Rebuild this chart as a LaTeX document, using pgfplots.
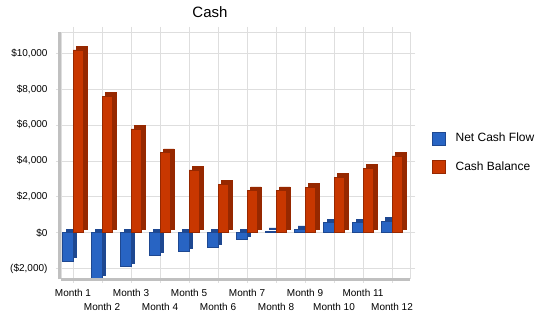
\documentclass[border=0pt]{standalone}
\usepackage{pgfplots}
\pgfplotsset{compat=1.18}
\usepackage{fontspec}
\setmainfont{Liberation Sans}

\definecolor{flowfront}{RGB}{40,100,195}
\definecolor{flowside}{RGB}{30,72,145}
\definecolor{balfront}{RGB}{200,55,0}
\definecolor{balside}{RGB}{150,40,0}
\definecolor{gridgray}{RGB}{222,222,222}
\definecolor{wallgray}{RGB}{192,192,192}

% monthly net cash flow and closing cash balance
\pgfplotstableread{
month flow balance
1  -1580 10170
2  -2550 7600
3  -1880 5780
4  -1260 4470
5  -1040 3490
6  -820  2700
7  -370  2350
8  80    2350
9  190   2540
10 560   3090
11 560   3600
12 650   4280
}\cashdata

\begin{document}
\begin{tikzpicture}
\useasboundingbox (0pt,0pt) rectangle (550pt,318pt);
\node[font=\fontsize{15}{18}\selectfont] at (210pt,306pt) {Cash};
\begin{axis}[
  at={(61pt,40pt)}, anchor=south west,
  width=349pt, height=246pt, scale only axis,
  xmin=0.586, xmax=12.62, ymin=-2521, ymax=11169,
  scaled y ticks=false,
  axis line style={draw=gridgray},
  grid=major, major grid style={draw=gridgray, line width=0.6pt},
  tick align=outside, major tick length=5pt,
  tick style={draw=gridgray, line width=0.6pt},
  xtick={1,3,5,7,9,11},
  xticklabels={Month 1,Month 3,Month 5,Month 7,Month 9,Month 11},
  extra x ticks={2,4,6,8,10,12},
  extra x tick labels={Month 2,Month 4,Month 6,Month 8,Month 10,Month 12},
  extra x tick style={xticklabel style={yshift=-14pt}},
  xticklabel style={font=\fontsize{10}{12}\selectfont, anchor=north, yshift=-3pt},
  ytick={-2000,0,2000,4000,6000,8000,10000},
  yticklabels={(\$2,000),\$0,{\$2,000},{\$4,000},{\$6,000},{\$8,000},{\$10,000}},
  yticklabel style={font=\fontsize{10}{12}\selectfont, xshift=-5pt},
  legend style={at={(axis description cs:1,1)}, anchor=north west,
    xshift=22pt, yshift=-99pt, draw=none, fill=none, inner sep=0pt,
    font=\fontsize{12}{14}\selectfont, row sep=14pt,
    nodes={inner sep=2pt}},
  legend cell align=left,
  clip=true,
  % gray walls on the left and the floor of the plot box
  after end axis/.code={
    \draw[wallgray, line width=3pt, xshift=-1.5pt] (rel axis cs:0,-0.006) -- (rel axis cs:0,1);
    \draw[wallgray, line width=3pt, yshift=-1.5pt] (rel axis cs:0,0) -- (rel axis cs:1,0);
  },
]
% depth faces: darker copy offset up and to the right
\addplot[ybar, bar width=10.5pt, bar shift=-5.25pt, fill=flowside, draw=flowside,
  xshift=3.5pt, yshift=3.5pt, forget plot] table[x=month, y=flow] {\cashdata};
\addplot[ybar, bar width=10.5pt, bar shift=-5.25pt, fill=flowfront, draw=flowside,
  line width=0.4pt,
  legend image code/.code={\draw[fill=flowfront, draw=flowside] (0pt,-6.5pt) rectangle (13pt,6.5pt);}]
  table[x=month, y=flow] {\cashdata};
\addlegendentry{\hspace*{8pt}Net Cash Flow}
\addplot[ybar, bar width=10.5pt, bar shift=5.25pt, fill=balside, draw=balside,
  xshift=3.5pt, yshift=3.5pt, forget plot] table[x=month, y=balance] {\cashdata};
\addplot[ybar, bar width=10.5pt, bar shift=5.25pt, fill=balfront, draw=balside,
  line width=0.4pt,
  legend image code/.code={\draw[fill=balfront, draw=balside] (0pt,-6.5pt) rectangle (13pt,6.5pt);}]
  table[x=month, y=balance] {\cashdata};
\addlegendentry{\hspace*{8pt}Cash Balance}
\end{axis}
\end{tikzpicture}
\end{document}
